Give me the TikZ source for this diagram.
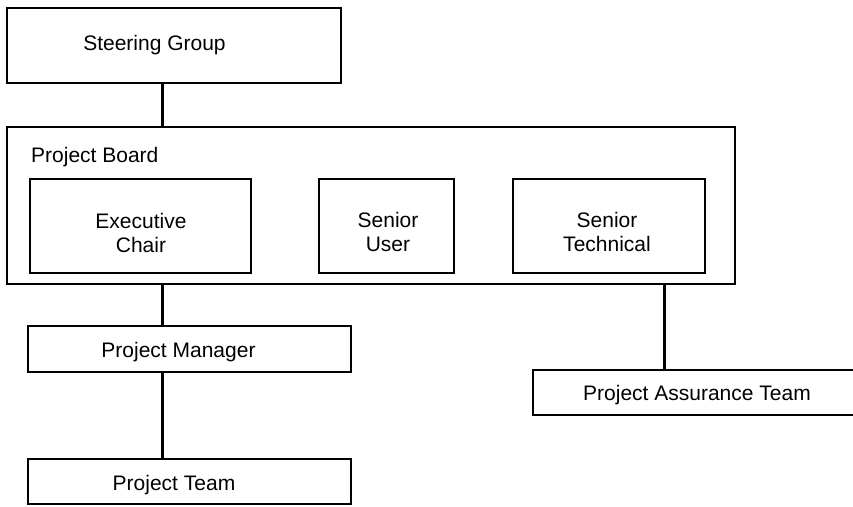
\documentclass[tikz,border=0pt]{standalone}
\usepackage{fontspec}
\setmainfont{Liberation Sans}
\begin{document}
\begin{tikzpicture}[x=1pt,y=-1pt,
  box/.style={draw=black,line width=2.8pt,rectangle,inner sep=0pt,fill=none},
  lbl/.style={font=\fontsize{21}{24}\selectfont,inner sep=0pt,align=center,text=black},
  conn/.style={draw=black,line width=3pt}]
\useasboundingbox (0,0) rectangle (853,506);
% boxes
\node[box,minimum width=334pt,minimum height=75pt] (sg) at (174,45.5) {};
\node[box,minimum width=728pt,minimum height=157pt] (board) at (371,205.5) {};
\node[box,minimum width=221pt,minimum height=94pt] (exec) at (140.5,226) {};
\node[box,minimum width=135pt,minimum height=94pt] (user) at (386.5,226) {};
\node[box,minimum width=192pt,minimum height=94pt] (tech) at (609,226) {};
\node[box,minimum width=323pt,minimum height=46pt] (pm) at (189.5,349) {};
\node[box,minimum width=323pt,minimum height=45pt] (pt) at (189.5,481.5) {};
\node[box,minimum width=338pt,minimum height=45pt] (pat) at (702,392.5) {};
% texts
\node[lbl,anchor=base] (sgt) at (154.5,50) {Steering Group};
\node[lbl,anchor=base west] (boardt) at (31,162) {Project Board};
\node[lbl] (exect) at (141,233) {Executive\\Chair};
\node[lbl] (usert) at (388,232) {Senior\\User};
\node[lbl] (techt) at (607,232) {Senior\\Technical};
\node[lbl,anchor=base] (pmt) at (178.5,357) {Project Manager};
\node[lbl,anchor=base] (ptt) at (174,490) {Project Team};
\node[lbl,anchor=base] (patt) at (697,400) {Project Assurance Team};
% connector columns
\coordinate (lx) at (162,0);
\coordinate (rx) at (664,0);
\draw[conn] (sg.south -| lx) -- (board.north -| lx);
\draw[conn] (board.south -| lx) -- (pm.north -| lx);
\draw[conn] (pm.south -| lx) -- (pt.north -| lx);
\draw[conn] (board.south -| rx) -- (pat.north -| rx);
\end{tikzpicture}
\end{document}
